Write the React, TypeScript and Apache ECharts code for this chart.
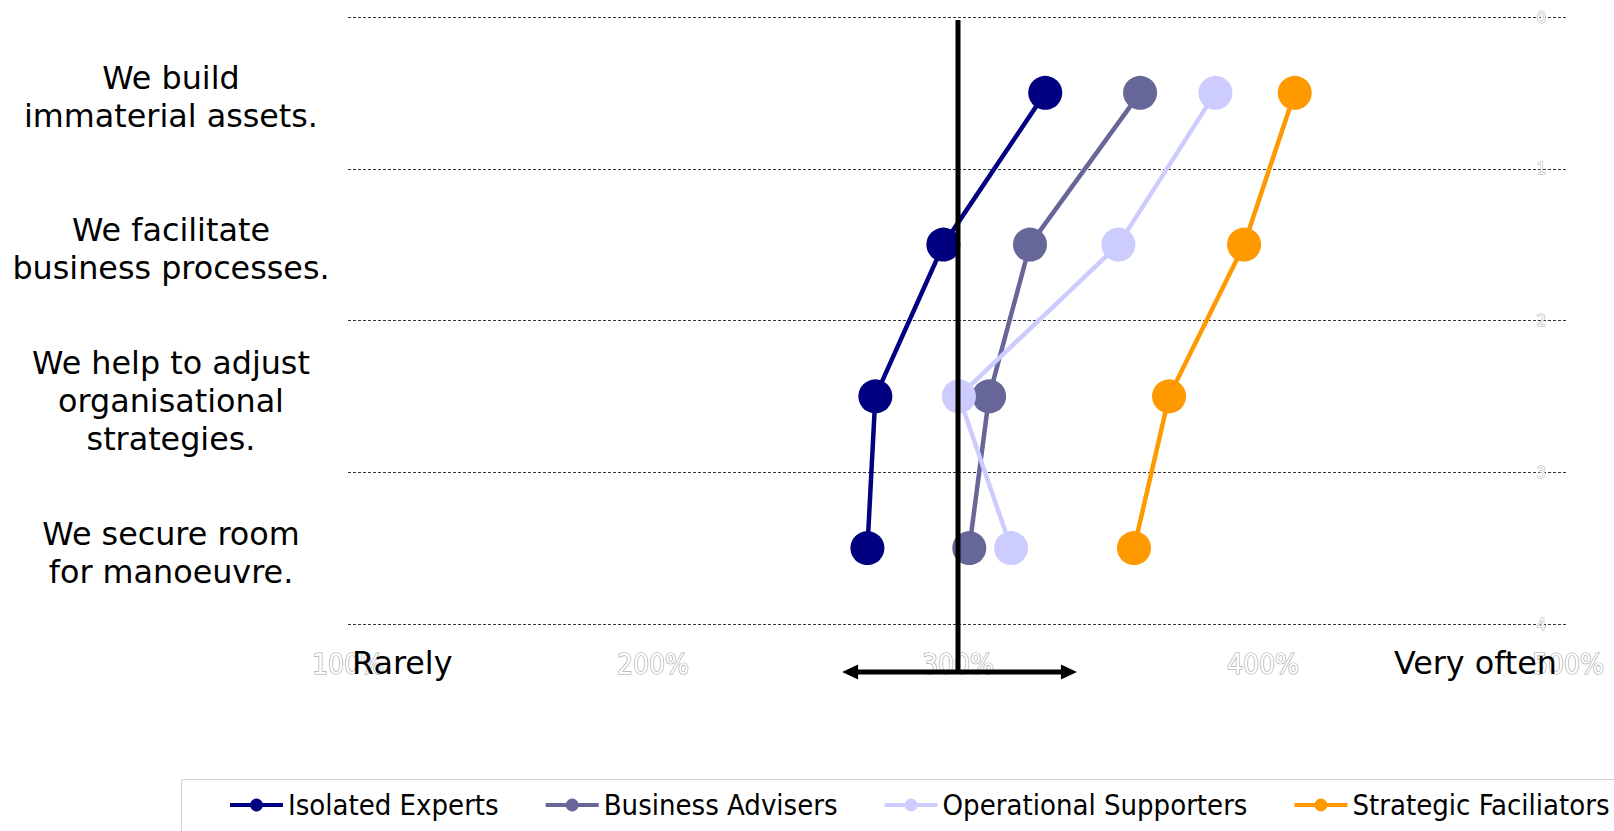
import React, { useEffect, useRef } from "react";
import * as echarts from "echarts";

// Statements (one per row, top to bottom)
const statements = [
  "We build\nimmaterial assets.",
  "We facilitate\nbusiness processes.",
  "We help to adjust\norganisational\nstrategies.",
  "We secure room\nfor manoeuvre.",
];

// Group names and their average frequency (100% = rarely, 500% = very often)
const groupNames = ["Isolated Experts", "Business Advisers", "Operational Supporters", "Strategic Faciliators"];
const isolatedExperts = [328.6, 295.2, 272.9, 270.3];
const businessAdvisers = [359.7, 323.6, 310.2, 303.7];
const operationalSupporters = [384.4, 352.6, 300.3, 317.4];
const strategicFaciliators = [410.4, 393.8, 369.2, 357.7];
const groupValues = [isolatedExperts, businessAdvisers, operationalSupporters, strategicFaciliators];
const groupColors = ["#000080", "#666699", "#CCCCFF", "#FF9900"];

// Axis ranges
const xMin = 100;
const xMax = 500;
const xStep = 100;
const rowMin = 0;
const rowMax = 4;

// Scale end captions and the centre marker
const scaleEnds = ["Rarely", "Very often"];
const midpoint = 300;
const arrowSpan = [262, 339];

const labelFont = "'DejaVu Sans Condensed', 'Liberation Sans Narrow', 'DejaVu Sans', sans-serif";
const textFont = "'DejaVu Sans', Verdana, sans-serif";

export default function App() {
  const ref = useRef<HTMLDivElement>(null);

  useEffect(() => {
    if (!ref.current) return;
    const chart = echarts.init(ref.current, null, { renderer: "svg" });

    const series = groupNames.map((name, gi) => ({
      name,
      type: "line",
      data: groupValues[gi].map((v, ri) => [v, ri + 0.5]),
      xAxisIndex: 0,
      yAxisIndex: 0,
      symbol: "circle",
      symbolSize: 34,
      showSymbol: true,
      lineStyle: { color: groupColors[gi], width: 4.5 },
      itemStyle: { color: groupColors[gi] },
      emphasis: { disabled: true },
      z: 2 + gi,
    }));

    chart.setOption({
      animation: false,
      grid: [
        // plot area
        { left: 348, right: 46, top: 17, bottom: 207, containLabel: false },
        // statement captions, set slightly lower than the row centres
        { left: 348, right: 46, top: 21, bottom: 203, containLabel: false },
      ],
      xAxis: [
        {
          type: "value",
          gridIndex: 0,
          min: xMin,
          max: xMax,
          interval: xStep,
          axisLine: { show: false },
          axisTick: { show: false },
          splitLine: { show: false },
          axisLabel: {
            formatter: "{value}%",
            fontFamily: labelFont,
            fontSize: 28,
            color: "#ffffff",
            textBorderColor: "#a0a0a0",
            textBorderWidth: 1.2,
            verticalAlign: "middle",
            margin: 40,
          },
        },
        {
          type: "value",
          gridIndex: 1,
          show: false,
          min: xMin,
          max: xMax,
        },
      ],
      yAxis: [
        {
          type: "value",
          gridIndex: 0,
          position: "right",
          min: rowMin,
          max: rowMax,
          interval: 1,
          inverse: true,
          axisLine: { show: false },
          axisTick: { show: false },
          splitLine: { show: true, lineStyle: { color: "#333333", width: 1, type: [3, 2] } },
          axisLabel: {
            inside: true,
            margin: 22,
            fontFamily: labelFont,
            fontSize: 16,
            color: "#ffffff",
            textBorderColor: "#a8a8a8",
            textBorderWidth: 1,
          },
        },
        {
          type: "category",
          gridIndex: 1,
          position: "left",
          inverse: true,
          data: statements,
          axisLine: { show: false },
          axisTick: { show: false },
          splitLine: { show: false },
          axisLabel: {
            margin: 177,
            align: "center",
            fontFamily: textFont,
            fontSize: 31.8,
            lineHeight: 38,
            color: "#000000",
          },
        },
      ],
      legend: {
        left: 228,
        top: 790,
        width: 1400,
        padding: 0,
        itemWidth: 53,
        itemHeight: 16,
        itemGap: 45,
        lineStyle: { width: 4 },
        textStyle: { fontFamily: labelFont, fontSize: 29, color: "#000000", lineHeight: 30 },
        data: groupNames,
      },
      series,
    });

    // Centre marker, arrow and scale captions, placed through the axes
    const xc = chart.convertToPixel({ xAxisIndex: 0 }, midpoint) as number;
    const xa = chart.convertToPixel({ xAxisIndex: 0 }, arrowSpan[0]) as number;
    const xb = chart.convertToPixel({ xAxisIndex: 0 }, arrowSpan[1]) as number;
    const xLeft = chart.convertToPixel({ xAxisIndex: 0 }, xMin) as number;
    const xRight = chart.convertToPixel({ xAxisIndex: 0 }, xMax) as number;
    const yTop = chart.convertToPixel({ yAxisIndex: 0 }, rowMin) as number;
    const yBottom = chart.convertToPixel({ yAxisIndex: 0 }, rowMax) as number;
    const arrowY = yBottom + 48;
    const head = 16;
    const half = 7.5;

    chart.setOption({
      graphic: [
        {
          type: "rect",
          z: 0,
          silent: true,
          shape: { x: 181.5, y: 779.5, width: 1600, height: 120 },
          style: { fill: "none", stroke: "#d4d4d4", lineWidth: 1 },
        },
        {
          type: "line",
          z: 50,
          silent: true,
          shape: { x1: xc, y1: yTop + 3, x2: xc, y2: arrowY },
          style: { stroke: "#000000", lineWidth: 5 },
        },
        {
          type: "line",
          z: 50,
          silent: true,
          shape: { x1: xa + head - 2, y1: arrowY, x2: xb - head + 2, y2: arrowY },
          style: { stroke: "#000000", lineWidth: 5 },
        },
        {
          type: "polygon",
          z: 50,
          silent: true,
          shape: { points: [[xa, arrowY], [xa + head, arrowY - half], [xa + head, arrowY + half]] },
          style: { fill: "#000000" },
        },
        {
          type: "polygon",
          z: 50,
          silent: true,
          shape: { points: [[xb, arrowY], [xb - head, arrowY - half], [xb - head, arrowY + half]] },
          style: { fill: "#000000" },
        },
        {
          type: "text",
          z: 50,
          silent: true,
          x: xLeft + 4,
          y: arrowY - 10,
          style: {
            text: scaleEnds[0],
            fontFamily: textFont,
            fontSize: 31.8,
            fill: "#000000",
            textAlign: "left",
            textVerticalAlign: "middle",
          },
        },
        {
          type: "text",
          z: 50,
          silent: true,
          x: xRight - 11,
          y: arrowY - 10,
          style: {
            text: scaleEnds[1],
            fontFamily: textFont,
            fontSize: 31.8,
            fill: "#000000",
            textAlign: "right",
            textVerticalAlign: "middle",
          },
        },
      ],
    });

    return () => chart.dispose();
  }, []);

  return (
    <div
      ref={ref}
      style={{ position: "fixed", left: 0, top: 0, width: 1614, height: 831, background: "#ffffff" }}
    />
  );
}
